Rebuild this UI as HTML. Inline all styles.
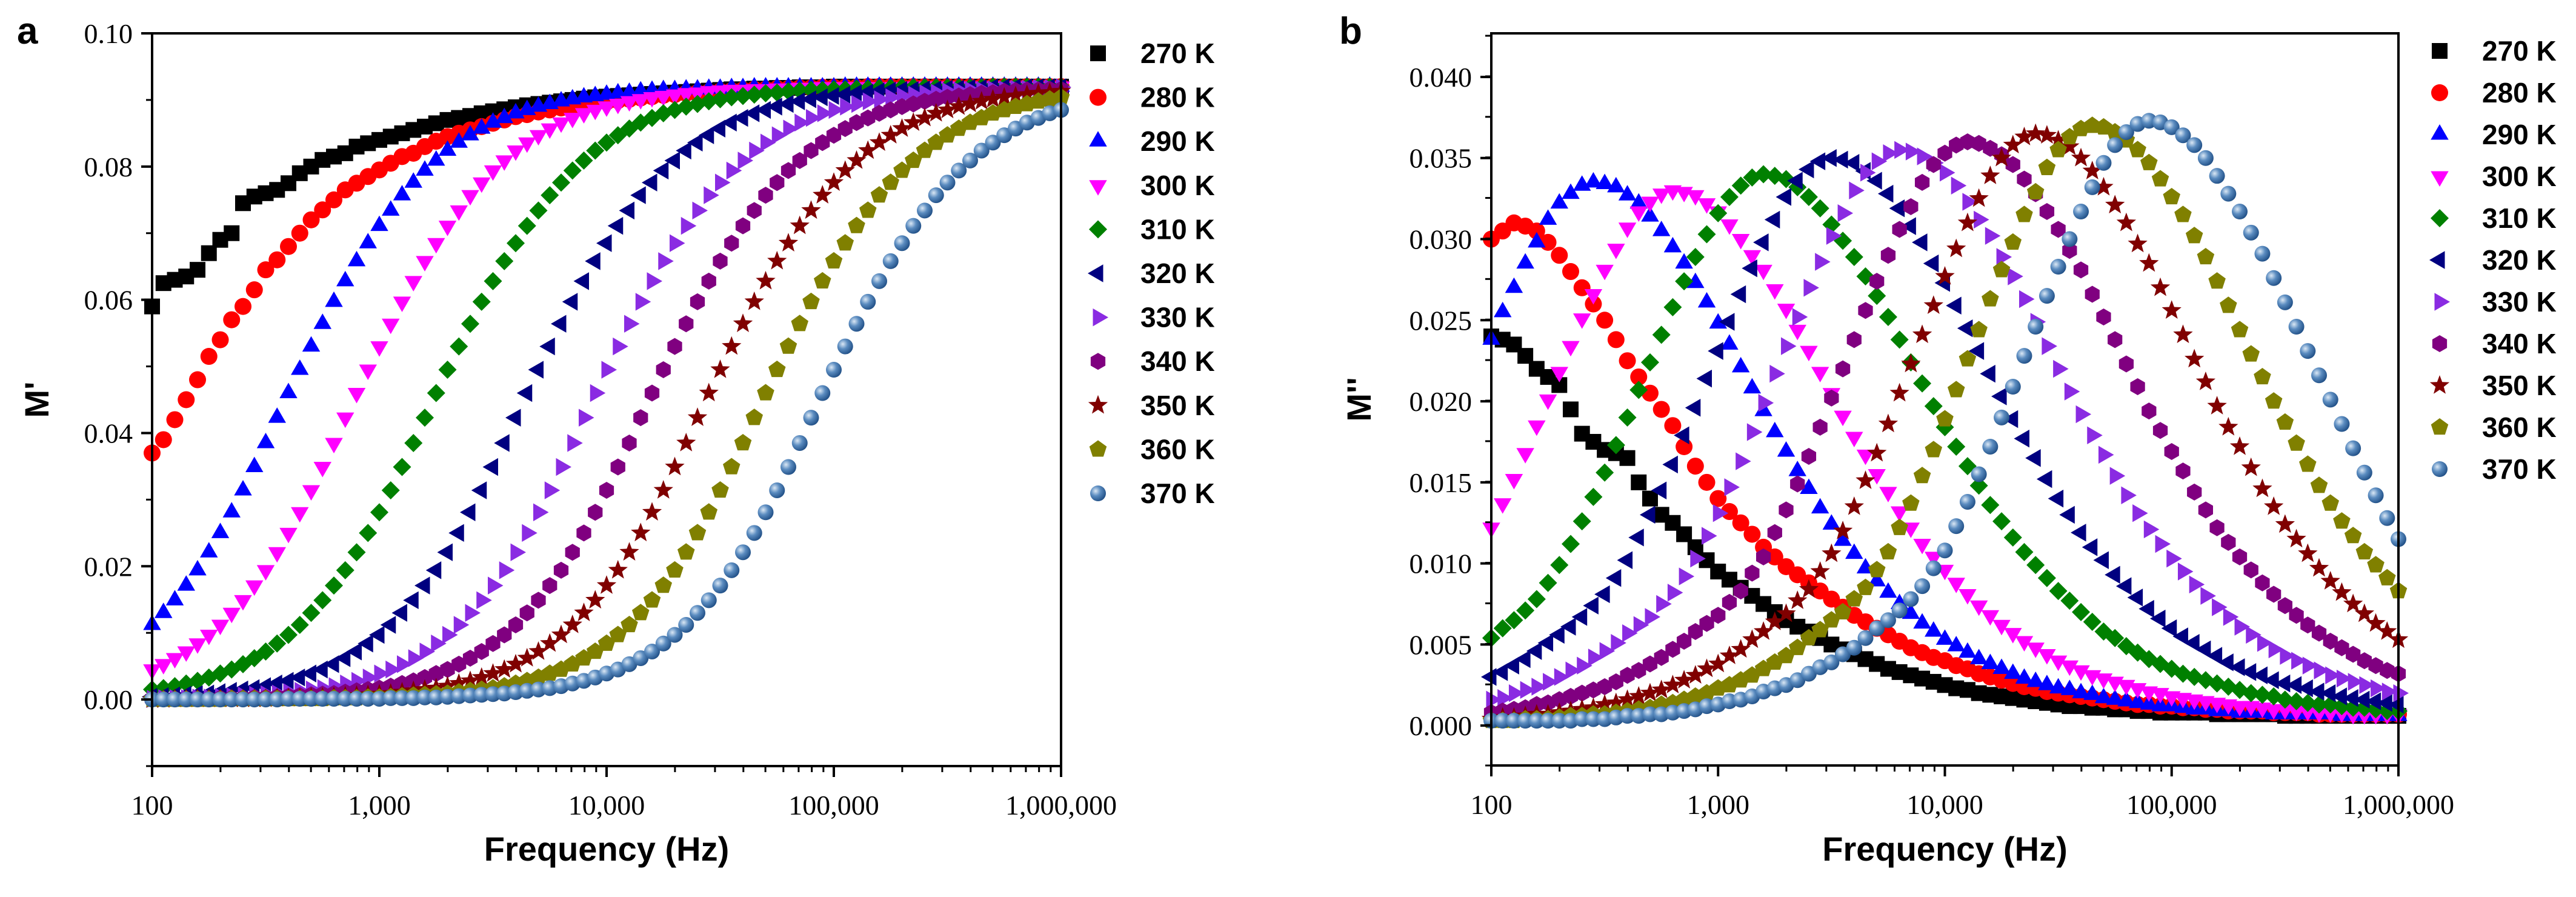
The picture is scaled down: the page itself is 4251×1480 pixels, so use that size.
<!DOCTYPE html>
<html><head><meta charset="utf-8"><style>
html,body{margin:0;padding:0;background:#fff}
svg{display:block}
</style></head><body>
<svg id="fig" width="4251" height="1480" viewBox="0 0 4251 1480" xmlns="http://www.w3.org/2000/svg">
<defs>
<radialGradient id="sph" cx="0.35" cy="0.35" r="0.7">
<stop offset="0" stop-color="#dbe8f5"/><stop offset="0.45" stop-color="#5b8cc0"/><stop offset="1" stop-color="#1f4e85"/>
</radialGradient>
</defs>
</svg>
<script>
const logFreq = [2.00,2.05,2.10,2.15,2.20,2.25,2.30,2.35,2.40,2.45,2.50,2.55,2.60,2.65,2.70,2.75,2.80,2.85,2.90,2.95,
3.00,3.05,3.10,3.15,3.20,3.25,3.30,3.35,3.40,3.45,3.50,3.55,3.60,3.65,3.70,3.75,3.80,3.85,3.90,3.95,
4.00,4.05,4.10,4.15,4.20,4.25,4.30,4.35,4.40,4.45,4.50,4.55,4.60,4.65,4.70,4.75,4.80,4.85,4.90,4.95,
5.00,5.05,5.10,5.15,5.20,5.25,5.30,5.35,5.40,5.45,5.50,5.55,5.60,5.65,5.70,5.75,5.80,5.85,5.90,5.95,6.00];
const temps = ["270 K","280 K","290 K","300 K","310 K","320 K","330 K","340 K","350 K","360 K","370 K"];
const xTickLabels = ["100","1,000","10,000","100,000","1,000,000"];
const xTickLogs = [2,3,4,5,6];
const aYTicks = [0,0.02,0.04,0.06,0.08,0.10];
const aYTickLabels = ["0.00","0.02","0.04","0.06","0.08","0.10"];
const bYTicks = [0,0.005,0.01,0.015,0.02,0.025,0.03,0.035,0.04];
const bYTickLabels = ["0.000","0.005","0.010","0.015","0.020","0.025","0.030","0.035","0.040"];

const mp270 = [0.0590,0.0625,0.0630,0.0635,0.0645,0.0670,0.0690,0.0700,0.0745,0.0755,
0.0760,0.0765,0.0775,0.0790,0.0800,0.0810,0.0815,0.0820,0.0830,0.0835,
0.0840,0.0845,0.0850,0.0855,0.0860,0.0865,0.0870,0.0873,0.0876,0.0880,
0.0883,0.0886,0.0889,0.0892,0.0894,0.0896,0.0898,0.0900,0.0902,0.0904,0.0905,
0.0906,0.0907,0.0908,0.0909,0.0910,0.0911,0.0912,0.0913,0.0914,0.0915,
0.0916,0.0916,0.0917,0.0917,0.0918,0.0918,0.0919,0.0919,0.0919,0.0920,
0.0920,0.0920,0.0920,0.0920,0.0920,0.0920,0.0920,0.0920,0.0920,0.0920,
0.0920,0.0920,0.0920,0.0920,0.0920,0.0920,0.0920,0.0920,0.0920,0.0920];
const mp280 = [0.0370,0.0390,0.0420,0.0450,0.0480,0.0515,0.0540,0.0570,0.0590,0.0615,
0.0645,0.0660,0.0680,0.0700,0.0720,0.0735,0.0750,0.0765,0.0775,0.0785,
0.0795,0.0805,0.0815,0.0820,0.0830,0.0838,0.0845,0.0850,0.0855,0.0860,
0.0865,0.0870,0.0875,0.0878,0.0882,0.0885,0.0888,0.0890,0.0893,0.0895,0.0897,
0.0899,0.0901,0.0903,0.0905,0.0907,0.0908,0.0910,0.0911,0.0912,0.0913,
0.0914,0.0915,0.0916,0.0916,0.0917,0.0917,0.0918,0.0918,0.0919,0.0919,
0.0919,0.0919,0.0920,0.0920,0.0920,0.0920,0.0920,0.0920,0.0920,0.0920,
0.0920,0.0920,0.0920,0.0920,0.0920,0.0920,0.0920,0.0920,0.0920,0.0920];
const mp290 = [0.0112,0.0130,0.0149,0.0171,
0.0194,0.0221,0.0250,0.0281,0.0314,0.0349,0.0385,0.0423,0.0460,0.0495,
0.0530,0.0564,0.0597,0.0628,0.0658,0.0685,0.0711,0.0734,0.0757,0.0776,
0.0794,0.0809,0.0824,0.0836,0.0847,0.0857,0.0866,0.0873,0.0880,0.0885,
0.0890,0.0894,0.0898,0.0901,0.0904,0.0906,0.0908,0.0910,0.0911,0.0913,
0.0914,0.0915,0.0915,0.0916,0.0916,0.0917,0.0917,0.0918,0.0918,0.0919,
0.0919,0.0919,0.0919,0.0919,0.0919,0.0919,0.0919,
0.0920,0.0920,0.0920,0.0920,0.0920,0.0920,0.0920,0.0920,0.0920,0.0920,0.0920,0.0920,0.0920,0.0920,0.0920,0.0920,0.0920,0.0920,0.0920,0.0920];
const mp300 = [0.0045,0.0053,0.0062,0.0072,0.0084,0.0097,0.0112,0.0130,0.0149,0.0171,
0.0194,0.0221,0.0250,0.0281,0.0314,0.0349,0.0385,0.0423,0.0460,0.0495,
0.0530,0.0564,0.0597,0.0628,0.0658,0.0685,0.0711,0.0734,0.0757,0.0776,
0.0794,0.0809,0.0824,0.0836,0.0847,0.0857,0.0866,0.0873,0.0880,0.0885,
0.0890,0.0894,0.0898,0.0901,0.0904,0.0906,0.0908,0.0910,0.0911,0.0913,
0.0914,0.0915,0.0915,0.0916,0.0916,0.0917,0.0917,0.0918,0.0918,0.0919,
0.0919,0.0919,0.0919,0.0919,0.0919,0.0919,0.0919,
0.0920,0.0920,0.0920,0.0920,0.0920,0.0920,0.0920,0.0920,0.0920,0.0920,0.0920,0.0920,0.0920,0.0920];
const mp310 = [0.0015,0.0017,0.0020,0.0024,0.0028,0.0033,0.0039,
0.0045,0.0053,0.0062,0.0072,0.0084,0.0097,0.0112,0.0130,0.0149,0.0171,
0.0194,0.0221,0.0250,0.0281,0.0314,0.0349,0.0385,0.0423,0.0460,0.0495,
0.0530,0.0564,0.0597,0.0628,0.0658,0.0685,0.0711,0.0734,0.0757,0.0776,
0.0794,0.0809,0.0824,0.0836,0.0847,0.0857,0.0866,0.0873,0.0880,0.0885,
0.0890,0.0894,0.0898,0.0901,0.0904,0.0906,0.0908,0.0910,0.0911,0.0913,
0.0914,0.0915,0.0915,0.0916,0.0916,0.0917,0.0917,0.0918,0.0918,0.0919,
0.0919,0.0919,0.0919,0.0919,0.0919,0.0919,0.0919,
0.0920,0.0920,0.0920,0.0920,0.0920,0.0920,0.0920];
const mp320 = [0.0004,0.0005,0.0006,0.0007,0.0008,
0.0009,0.0011,0.0013,0.0015,0.0017,0.0020,0.0024,0.0028,0.0033,0.0039,
0.0045,0.0053,0.0062,0.0072,0.0084,0.0097,0.0112,0.0130,0.0149,0.0171,
0.0194,0.0221,0.0250,0.0281,0.0314,0.0349,0.0385,0.0423,0.0460,0.0495,
0.0530,0.0564,0.0597,0.0628,0.0658,0.0685,0.0711,0.0734,0.0757,0.0776,
0.0794,0.0809,0.0824,0.0836,0.0847,0.0857,0.0866,0.0873,0.0880,0.0885,
0.0890,0.0894,0.0898,0.0901,0.0904,0.0906,0.0908,0.0910,0.0911,0.0913,
0.0914,0.0915,0.0915,0.0916,0.0916,0.0917,0.0917,0.0918,0.0918,0.0919,
0.0919,0.0919,0.0919,0.0919,0.0919,0.0919];
const mp330 = [0.0001,
0.0002,0.0002,0.0002,0.0003,0.0003,0.0004,0.0005,0.0006,0.0007,0.0008,
0.0009,0.0011,0.0013,0.0015,0.0017,0.0020,0.0024,0.0028,0.0033,0.0039,
0.0045,0.0053,0.0062,0.0072,0.0084,0.0097,0.0112,0.0130,0.0149,0.0171,
0.0194,0.0221,0.0250,0.0281,0.0314,0.0349,0.0385,0.0423,0.0460,0.0495,
0.0530,0.0564,0.0597,0.0628,0.0658,0.0685,0.0711,0.0734,0.0757,0.0776,
0.0794,0.0809,0.0824,0.0836,0.0847,0.0857,0.0866,0.0873,0.0880,0.0885,
0.0890,0.0894,0.0898,0.0901,0.0904,0.0906,0.0908,0.0910,0.0911,0.0913,
0.0914,0.0915,0.0915,0.0916,0.0916,0.0917,0.0917,0.0918,0.0918,0.0919];
const mp340 = [0.0001,0.0001,0.0001,0.0001,0.0001,0.0001,
0.0002,0.0002,0.0002,0.0003,0.0003,0.0004,0.0005,0.0006,0.0007,0.0008,
0.0009,0.0011,0.0013,0.0015,0.0017,0.0020,0.0024,0.0028,0.0033,0.0039,
0.0045,0.0053,0.0062,0.0072,0.0084,0.0097,0.0112,0.0130,0.0149,0.0171,
0.0194,0.0221,0.0250,0.0281,0.0314,0.0349,0.0385,0.0423,0.0460,0.0495,
0.0530,0.0564,0.0597,0.0628,0.0658,0.0685,0.0711,0.0734,0.0757,0.0776,
0.0794,0.0809,0.0824,0.0836,0.0847,0.0857,0.0866,0.0873,0.0880,0.0885,
0.0890,0.0894,0.0898,0.0901,0.0904,0.0906,0.0908,0.0910,0.0911,0.0913,
0.0914,0.0915,0.0915,0.0916,0.0916];
const mp350 = [0.0000,
0.0000,0.0001,0.0001,0.0001,0.0001,0.0001,0.0001,0.0001,0.0001,0.0001,
0.0002,0.0002,0.0002,0.0003,0.0003,0.0004,0.0005,0.0006,0.0007,0.0008,
0.0009,0.0011,0.0013,0.0015,0.0017,0.0020,0.0024,0.0028,0.0033,0.0039,
0.0045,0.0053,0.0062,0.0072,0.0084,0.0097,0.0112,0.0130,0.0149,0.0171,
0.0194,0.0221,0.0250,0.0281,0.0314,0.0349,0.0385,0.0423,0.0460,0.0495,
0.0530,0.0564,0.0597,0.0628,0.0658,0.0685,0.0711,0.0734,0.0757,0.0776,
0.0794,0.0809,0.0824,0.0836,0.0847,0.0857,0.0866,0.0873,0.0880,0.0885,
0.0890,0.0894,0.0898,0.0901,0.0904,0.0906,0.0908,0.0910,0.0911,0.0913];
const mp360 = [0.0000,0.0000,0.0000,0.0000,0.0000,0.0000,
0.0000,0.0001,0.0001,0.0001,0.0001,0.0001,0.0001,0.0001,0.0001,0.0001,
0.0002,0.0002,0.0002,0.0003,0.0003,0.0004,0.0005,0.0006,0.0007,0.0008,
0.0009,0.0011,0.0013,0.0015,0.0017,0.0020,0.0024,0.0028,0.0033,0.0039,
0.0045,0.0053,0.0062,0.0072,0.0084,0.0097,0.0112,0.0130,0.0149,0.0171,
0.0194,0.0221,0.0250,0.0281,0.0314,0.0349,0.0385,0.0423,0.0460,0.0495,
0.0530,0.0564,0.0597,0.0628,0.0658,0.0685,0.0711,0.0734,0.0757,0.0776,
0.0794,0.0809,0.0824,0.0836,0.0847,0.0857,0.0866,0.0873,0.0880,0.0885,
0.0890,0.0894,0.0898,0.0901,0.0904];
const mp370 = [0.0000,0.0000,0.0000,0.0000,0.0000,0.0000,0.0000,0.0000,0.0000,0.0000,0.0000,
0.0000,0.0001,0.0001,0.0001,0.0001,0.0001,0.0001,0.0001,0.0001,0.0001,
0.0002,0.0002,0.0002,0.0003,0.0003,0.0004,0.0005,0.0006,0.0007,0.0008,
0.0009,0.0011,0.0013,0.0015,0.0017,0.0020,0.0024,0.0028,0.0033,0.0039,
0.0045,0.0053,0.0062,0.0072,0.0084,0.0097,0.0112,0.0130,0.0149,0.0171,
0.0194,0.0221,0.0250,0.0281,0.0314,0.0349,0.0385,0.0423,0.0460,0.0495,
0.0530,0.0564,0.0597,0.0628,0.0658,0.0685,0.0711,0.0734,0.0757,0.0776,
0.0794,0.0809,0.0824,0.0836,0.0847,0.0857,0.0866,0.0873,0.0880,0.0885];

const mpp270 = [0.0240,0.0238,0.0235,0.0228,0.0220,0.0215,0.0210,0.0195,0.0180,0.0175,
0.0170,0.0168,0.0165,0.0150,0.0140,0.0130,0.0125,0.0118,0.0110,0.0102,
0.0095,0.0090,0.0085,0.0080,0.0075,0.0070,0.0065,0.0061,0.0058,0.0054,
0.0050,0.0047,0.0044,0.0041,0.0038,0.0035,0.0033,0.0031,0.0029,0.0027,
0.0025,0.0023,0.0022,0.0020,0.0019,0.0018,0.0017,0.0016,0.0015,0.0014,
0.0013,0.0012,0.0012,0.0011,0.0011,0.0010,0.0010,0.0009,0.0009,0.0008,
0.0008,0.0008,0.0008,0.0008,0.0007,0.0007,0.0007,0.0007,0.0007,0.0007,
0.0006,0.0006,0.0006,0.0006,0.0006,0.0006,0.0006,0.0006,0.0006,0.0006,0.0006];
const mpp280 = [0.0300,0.0305,0.0310,0.0308,0.0305,0.0298,0.0290,0.0280,0.0270,0.0260,
0.0250,0.0238,0.0225,0.0215,0.0205,0.0195,0.0185,0.0172,0.0160,0.0150,
0.0140,0.0132,0.0125,0.0118,0.0110,0.0104,0.0098,0.0093,0.0088,0.0083,
0.0078,0.0073,0.0068,0.0064,0.0060,0.0056,0.0052,0.0048,0.0045,0.0042,
0.0040,0.0037,0.0035,0.0032,0.0030,0.0028,0.0026,0.0024,0.0023,0.0021,
0.0020,0.0019,0.0018,0.0017,0.0016,0.0015,0.0014,0.0013,0.0013,0.0012,
0.0012,0.0011,0.0011,0.0010,0.0010,0.0009,0.0009,0.0009,0.0009,0.0008,
0.0008,0.0008,0.0008,0.0007,0.0007,0.0007,0.0007,0.0007,0.0007,0.0007,0.0007];
const mpp290 = [0.0238,0.0255,0.0270,0.0285,0.0298,0.0312,0.0322,0.0328,0.0333,0.0335,
0.0334,0.0332,0.0327,0.0322,0.0314,0.0305,0.0295,0.0285,0.0273,0.0261,
0.0248,0.0235,0.0221,0.0208,0.0194,0.0181,0.0169,0.0157,0.0146,0.0134,
0.0124,0.0114,0.0106,0.0097,0.0089,0.0082,0.0075,0.0069,0.0063,0.0058,
0.0053,0.0049,0.0045,0.0041,0.0038,0.0035,0.0032,0.0029,0.0027,0.0025,
0.0023,0.0022,0.0020,0.0019,0.0017,0.0016,0.0015,0.0014,0.0013,0.0012,
0.0012,0.0011,0.0010,0.0010,0.0009,0.0009,0.0008,0.0008,0.0008,0.0007,
0.0007,0.0007,0.0007,0.0007,0.0007,0.0006,0.0006,0.0006,0.0006,0.0006,0.0006];
const mpp300 = [0.0122,0.0137,0.0152,0.0168,0.0185,0.0201,0.0218,0.0234,0.0251,0.0266,
0.0281,0.0294,0.0307,0.0317,0.0323,0.0328,0.0330,
0.0329,0.0327,0.0322,0.0317,0.0309,0.0300,0.0290,0.0281,0.0269,0.0257,
0.0244,0.0231,0.0218,0.0205,0.0191,0.0178,0.0167,0.0155,0.0144,0.0132,
0.0122,0.0112,0.0104,0.0096,0.0088,0.0081,0.0074,0.0068,0.0062,0.0057,
0.0052,0.0048,0.0044,0.0040,0.0037,0.0034,0.0031,0.0029,0.0027,0.0025,
0.0023,0.0021,0.0020,0.0018,0.0017,0.0016,0.0015,0.0014,0.0013,0.0012,
0.0012,0.0011,0.0010,0.0010,0.0009,0.0009,0.0008,0.0008,0.0008,0.0007,
0.0007,0.0007,0.0007,0.0007];
const mpp310 = [0.0054,0.0060,0.0065,0.0071,0.0078,0.0088,0.0099,0.0112,0.0126,0.0141,
0.0156,0.0173,0.0190,0.0207,0.0224,0.0241,0.0258,0.0274,0.0289,0.0303,
0.0316,0.0326,0.0333,0.0338,0.0340,
0.0339,0.0337,0.0332,0.0326,0.0319,0.0309,0.0299,0.0289,0.0277,0.0265,
0.0252,0.0238,0.0224,0.0211,0.0197,0.0184,0.0172,0.0160,0.0148,0.0136,
0.0126,0.0116,0.0107,0.0099,0.0091,0.0083,0.0077,0.0070,0.0064,0.0058,
0.0054,0.0049,0.0045,0.0041,0.0038,0.0035,0.0032,0.0030,0.0028,0.0026,
0.0024,0.0022,0.0020,0.0019,0.0018,0.0016,0.0015,0.0014,0.0013,0.0013,
0.0012,0.0011,0.0011,0.0010,0.0009,0.0009];
const mpp320 = [0.0030,0.0033,0.0037,0.0041,0.0046,0.0051,0.0056,0.0061,0.0067,0.0074,
0.0081,0.0091,0.0102,0.0116,0.0130,0.0145,0.0161,0.0179,0.0196,0.0214,
0.0231,0.0249,0.0266,0.0282,0.0298,0.0312,0.0326,0.0336,0.0343,0.0348,0.0350,
0.0349,0.0347,0.0342,0.0336,0.0328,0.0319,0.0308,0.0298,0.0285,0.0273,
0.0259,0.0245,0.0231,0.0217,0.0203,0.0189,0.0177,0.0165,0.0152,0.0140,
0.0130,0.0119,0.0110,0.0102,0.0093,0.0086,0.0079,0.0072,0.0066,0.0060,
0.0055,0.0051,0.0047,0.0043,0.0039,0.0036,0.0033,0.0031,0.0028,0.0026,
0.0025,0.0023,0.0021,0.0020,0.0018,0.0017,0.0016,0.0015,0.0014,0.0013];
const mpp330 = [0.0016,0.0017,0.0020,0.0022,0.0024,0.0027,
0.0030,0.0034,0.0037,0.0042,0.0046,0.0051,0.0057,0.0062,0.0067,0.0075,
0.0082,0.0092,0.0103,0.0117,0.0131,0.0147,0.0163,0.0181,0.0199,0.0217,
0.0234,0.0252,0.0270,0.0286,0.0302,0.0316,0.0330,0.0341,0.0348,0.0353,0.0355,
0.0354,0.0351,0.0347,0.0341,0.0333,0.0323,0.0312,0.0302,0.0289,0.0277,
0.0263,0.0249,0.0234,0.0220,0.0206,0.0192,0.0179,0.0167,0.0154,0.0142,
0.0131,0.0121,0.0112,0.0103,0.0095,0.0087,0.0080,0.0073,0.0067,0.0061,
0.0056,0.0051,0.0047,0.0043,0.0040,0.0037,0.0034,0.0031,0.0029,0.0027,
0.0025,0.0023,0.0021,0.0020];
const mpp340 = [0.0008,0.0009,0.0010,0.0011,0.0013,0.0014,
0.0016,0.0018,0.0020,0.0022,0.0024,0.0027,
0.0031,0.0034,0.0038,0.0042,0.0047,0.0052,0.0058,0.0063,0.0068,0.0076,
0.0083,0.0094,0.0104,0.0119,0.0133,0.0149,0.0166,0.0184,0.0202,0.0220,
0.0238,0.0256,0.0274,0.0290,0.0306,0.0320,0.0335,0.0346,0.0353,0.0358,0.0360,
0.0359,0.0356,0.0352,0.0346,0.0337,0.0328,0.0317,0.0306,0.0293,0.0281,
0.0266,0.0252,0.0238,0.0223,0.0209,0.0194,0.0182,0.0169,0.0157,0.0144,
0.0133,0.0122,0.0113,0.0104,0.0096,0.0088,0.0081,0.0074,0.0068,0.0062,
0.0057,0.0052,0.0048,0.0044,0.0040,0.0037,0.0034,0.0032];
const mpp350 = [0.0004,0.0005,0.0005,0.0006,0.0007,0.0007,
0.0008,0.0009,0.0010,0.0011,0.0013,0.0014,
0.0016,0.0018,0.0020,0.0022,0.0025,0.0028,
0.0031,0.0035,0.0038,0.0043,0.0047,0.0053,0.0058,0.0064,0.0069,0.0077,
0.0084,0.0095,0.0106,0.0120,0.0135,0.0151,0.0168,0.0186,0.0205,0.0223,
0.0241,0.0259,0.0277,0.0294,0.0310,0.0325,0.0339,0.0350,0.0358,0.0363,0.0365,
0.0364,0.0361,0.0357,0.0350,0.0342,0.0332,0.0321,0.0310,0.0297,0.0285,
0.0270,0.0256,0.0241,0.0226,0.0212,0.0197,0.0184,0.0172,0.0159,0.0146,
0.0135,0.0124,0.0115,0.0106,0.0097,0.0089,0.0082,0.0075,0.0069,0.0063,
0.0058,0.0053];
const mpp360 = [0.0003,0.0003,0.0003,0.0004,0.0004,
0.0004,0.0005,0.0006,0.0006,0.0007,0.0007,
0.0008,0.0009,0.0010,0.0011,0.0013,0.0014,
0.0016,0.0018,0.0020,0.0023,0.0025,0.0028,
0.0031,0.0035,0.0039,0.0043,0.0048,0.0054,0.0059,0.0065,0.0070,0.0078,
0.0085,0.0096,0.0107,0.0122,0.0137,0.0154,0.0170,0.0189,0.0207,0.0226,
0.0244,0.0263,0.0281,0.0298,0.0315,0.0329,0.0344,0.0355,0.0363,0.0368,0.0370,
0.0369,0.0366,0.0361,0.0355,0.0347,0.0337,0.0326,0.0315,0.0302,0.0289,
0.0274,0.0259,0.0244,0.0229,0.0215,0.0200,0.0187,0.0174,0.0161,0.0148,
0.0137,0.0126,0.0117,0.0107,0.0099,0.0091,0.0083];
const mpp370 = [0.0003,0.0003,0.0003,0.0003,0.0003,0.0003,0.0003,0.0003,0.0004,0.0004,
0.0004,0.0005,0.0006,0.0006,0.0007,0.0007,
0.0008,0.0009,0.0010,0.0012,0.0013,0.0015,
0.0016,0.0018,0.0021,0.0023,0.0025,0.0028,
0.0032,0.0036,0.0039,0.0044,0.0048,0.0054,0.0060,0.0065,0.0071,0.0078,
0.0086,0.0097,0.0108,0.0123,0.0138,0.0155,0.0172,0.0190,0.0209,0.0228,
0.0246,0.0265,0.0283,0.0300,0.0317,0.0332,0.0347,0.0358,0.0366,0.0371,0.0373,
0.0372,0.0369,0.0364,0.0358,0.0350,0.0339,0.0328,0.0317,0.0304,0.0291,
0.0276,0.0261,0.0246,0.0231,0.0216,0.0201,0.0186,0.0171,0.0156,0.0142,
0.0128,0.0115];

const seriesA = [mp270,mp280,mp290,mp300,mp310,mp320,mp330,mp340,mp350,mp360,mp370];
const seriesB = [mpp270,mpp280,mpp290,mpp300,mpp310,mpp320,mpp330,mpp340,mpp350,mpp360,mpp370];

const colors = ["#000000","#ff0000","#0000ff","#ff00ff","#008000","#000080","#8a2be2","#800080","#800000","#808000","url(#sph)"];
const shapes = ["square","circle","up","down","diamond","left","right","hex","star","pent","sphere"];

const NS = "http://www.w3.org/2000/svg";
const svg = document.getElementById('fig');
function mk(tag, attrs, parent){
  const e = document.createElementNS(NS, tag);
  for (const k in attrs) e.setAttribute(k, attrs[k]);
  (parent||svg).appendChild(e);
  return e;
}
function poly(n, r, rot){
  const p=[];
  for(let i=0;i<n;i++){const a=rot+i*2*Math.PI/n;p.push((r*Math.cos(a)).toFixed(2)+","+(r*Math.sin(a)).toFixed(2));}
  return p.join(" ");
}
function starPts(r){
  const p=[];
  for(let i=0;i<10;i++){const rr=i%2?r*0.42:r;const a=-Math.PI/2+i*Math.PI/5;p.push((rr*Math.cos(a)).toFixed(2)+","+(rr*Math.sin(a)).toFixed(2));}
  return p.join(" ");
}
function marker(g, shape, color, x, y){
  const s = 14;
  let e;
  if (shape==="square") e = mk('rect',{x:x-s+1,y:y-s+1,width:2*s-2,height:2*s-2,fill:color},g);
  else if (shape==="circle") e = mk('circle',{cx:x,cy:y,r:s,fill:color},g);
  else if (shape==="sphere") e = mk('circle',{cx:x,cy:y,r:s-1,fill:color},g);
  else {
    let pts;
    if (shape==="up") pts = poly(3,s+3,-Math.PI/2);
    else if (shape==="down") pts = poly(3,s+3,Math.PI/2);
    else if (shape==="left") pts = poly(3,s+3,Math.PI);
    else if (shape==="right") pts = poly(3,s+3,0);
    else if (shape==="diamond") pts = poly(4,s+1,0);
    else if (shape==="hex") pts = poly(6,s,Math.PI/2);
    else if (shape==="pent") pts = poly(5,s+1,-Math.PI/2);
    else if (shape==="star") pts = starPts(s+3);
    e = mk('polygon',{points:pts,fill:color,transform:`translate(${x},${y})`},g);
  }
  return e;
}

function panel(cfg){
  const {L,R,T,B,ymin,ymax,series,yTicks,yTickLabels,yMinorStep,title,letter,letterX,legX,legY,legStep,id} = cfg;
  const xs = lf => L + (lf-2)/4*(R-L);
  const ys = v => B - (v-ymin)/(ymax-ymin)*(B-T);
  const g = mk('g',{});
  
  
  const dg = mk('g',{},g);
  
  
  series.forEach((arr,si)=>{
    const sg = mk('g',{},dg);
    
    
    arr.forEach((v,i)=>{
      const m = marker(sg, shapes[si], colors[si], xs(logFreq[i]), ys(v));
      
      
    });
  });
  const fr = mk('rect',{x:L,y:T,width:R-L,height:B-T,fill:'none',stroke:'#000','stroke-width':4},g);
  
  
  const xa = mk('g',{},g);
  
  
  for (let d=2; d<6; d++){
    for (let k=2;k<=9;k++){
      const x = xs(d+Math.log10(k));
      mk('line',{x1:x,x2:x,y1:B,y2:B+10,stroke:'#000','stroke-width':3},xa);
    }
  }
  xTickLogs.forEach((lf,i)=>{
    const x = xs(lf);
    mk('line',{x1:x,x2:x,y1:B,y2:B+18,stroke:'#000','stroke-width':4},xa);
    const t = mk('text',{x:x,y:B+80,'text-anchor':'middle','font-family':'"Liberation Serif", serif','font-size':46},xa);
    t.textContent = xTickLabels[i];
    
    
  });
  const xt = mk('text',{x:(L+R)/2,y:1420,'text-anchor':'middle','font-family':'"Liberation Sans", sans-serif','font-weight':'bold','font-size':56},g);
  xt.textContent = 'Frequency (Hz)';
  
  
  const ya = mk('g',{},g);
  
  
  for (let v=ymin; v<=ymax+1e-9; v+=yMinorStep){
    const y = ys(v);
    if (y<T-1) continue;
    mk('line',{x1:L-10,x2:L,y1:y,y2:y,stroke:'#000','stroke-width':3},ya);
  }
  yTicks.forEach((v,i)=>{
    const y = ys(v);
    mk('line',{x1:L-18,x2:L,y1:y,y2:y,stroke:'#000','stroke-width':4},ya);
    const t = mk('text',{x:L-32,y:y+16,'text-anchor':'end','font-family':'"Liberation Serif", serif','font-size':46},ya);
    t.textContent = yTickLabels[i];
    
    
  });
  const yt = mk('text',{x:0,y:0,'text-anchor':'middle','font-family':'"Liberation Sans", sans-serif','font-weight':'bold','font-size':56,transform:`translate(${cfg.ytX},${(T+B)/2}) rotate(-90)`},g);
  yt.textContent = title;
  
  
  const lt = mk('text',{x:letterX,y:72,'font-family':'"Liberation Sans", sans-serif','font-weight':'bold','font-size':62},g);
  lt.textContent = letter;
  
  
  const lg = mk('g',{},g);
  
  
  temps.forEach((tname,i)=>{
    const y = legY + i*legStep;
    const eg = mk('g',{},lg);
    
    
    marker(eg, shapes[i], colors[i], legX, y);
    const t = mk('text',{x:legX+70,y:y+16,'font-family':'"Liberation Sans", sans-serif','font-weight':'bold','font-size':46},eg);
    t.textContent = tname;
  });
}

panel({id:'panel-a',L:251,R:1751,T:55,B:1264,ymin:-0.01,ymax:0.10,series:seriesA,yTicks:aYTicks,yTickLabels:aYTickLabels,yMinorStep:0.01,title:"M'",letter:'a',letterX:28,legX:1812,legY:88,legStep:72.6,ytX:80});
panel({id:'panel-b',L:2461,R:3958,T:55,B:1263,ymin:-0.00246,ymax:0.04269,series:seriesB,yTicks:bYTicks,yTickLabels:bYTickLabels,yMinorStep:0.0025,title:"M''",letter:'b',letterX:2210,legX:4026,legY:84,legStep:69,ytX:2262});
</script>
</body></html>
